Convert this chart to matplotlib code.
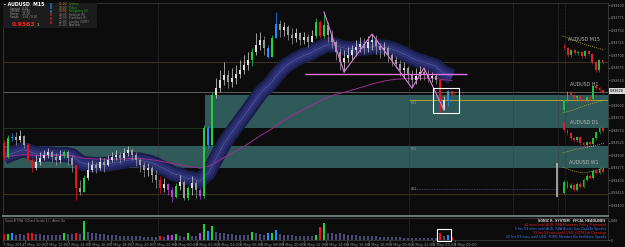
import numpy as np
import pandas as pd
import matplotlib
matplotlib.use('Agg')
import matplotlib.pyplot as plt
from matplotlib.patches import Rectangle

# ## Data ## #
# AUDUSD M15, prices in points (price * 1e5)
first_open = 93524
closes = np.array([
    93496, 93534, 93536, 93530, 93538, 93520, 93490, 93474, 93486, 93494,
    93500, 93506, 93496, 93490, 93498, 93506, 93494, 93480, 93434, 93426,
    93454, 93470, 93480, 93474, 93486, 93480, 93490, 93496, 93500, 93494,
    93504, 93510, 93500, 93490, 93480, 93470, 93474, 93460, 93450, 93434,
    93442, 93430, 93416, 93438, 93446, 93414, 93434, 93444, 93430, 93418,
    93554, 93520, 93620, 93634, 93650, 93660, 93646, 93654, 93662, 93670,
    93680, 93690, 93706, 93720, 93730, 93714, 93696, 93734, 93762, 93750,
    93756, 93740, 93734, 93744, 93730, 93736, 93726, 93738, 93766, 93738,
    93760, 93740, 93726, 93706, 93686, 93694, 93700, 93710, 93716, 93722,
    93714, 93726, 93730, 93718, 93710, 93714, 93700, 93690, 93682, 93670,
    93674, 93662, 93650, 93658, 93666, 93662, 93654, 93658, 93650, 93590,
    93610, 93628, 93622])
highs = np.array([
    93530, 93540, 93544, 93546, 93550, 93540, 93524, 93494, 93500, 93506,
    93510, 93514, 93510, 93504, 93510, 93510, 93510, 93500, 93480, 93450,
    93460, 93486, 93490, 93486, 93496, 93494, 93500, 93506, 93510, 93506,
    93514, 93518, 93514, 93506, 93494, 93486, 93484, 93478, 93470, 93458,
    93454, 93444, 93436, 93444, 93460, 93450, 93438, 93458, 93450, 93434,
    93560, 93558, 93626, 93654, 93670, 93686, 93670, 93674, 93680, 93690,
    93700, 93706, 93714, 93744, 93746, 93738, 93720, 93740, 93786, 93770,
    93766, 93760, 93754, 93754, 93746, 93746, 93742, 93750, 93774, 93770,
    93786, 93766, 93750, 93730, 93714, 93710, 93716, 93720, 93730, 93736,
    93734, 93738, 93742, 93740, 93724, 93726, 93718, 93704, 93698, 93690,
    93686, 93678, 93670, 93674, 93678, 93674, 93670, 93666, 93662, 93652,
    93618, 93630, 93628])
lows = np.array([
    93490, 93494, 93528, 93520, 93526, 93514, 93486, 93466, 93470, 93480,
    93490, 93494, 93486, 93480, 93484, 93494, 93480, 93466, 93410, 93420,
    93430, 93450, 93466, 93464, 93470, 93466, 93478, 93486, 93490, 93484,
    93490, 93498, 93490, 93478, 93466, 93456, 93458, 93446, 93434, 93424,
    93426, 93420, 93406, 93414, 93430, 93410, 93410, 93420, 93414, 93412,
    93414, 93514, 93518, 93614, 93626, 93640, 93634, 93636, 93642, 93654,
    93662, 93670, 93678, 93700, 93710, 93700, 93694, 93696, 93734, 93736,
    93738, 93730, 93722, 93726, 93720, 93722, 93716, 93726, 93734, 93734,
    93734, 93726, 93714, 93690, 93670, 93666, 93686, 93690, 93698, 93706,
    93702, 93706, 93710, 93702, 93694, 93698, 93686, 93678, 93674, 93658,
    93654, 93646, 93634, 93642, 93650, 93650, 93646, 93646, 93642, 93586,
    93590, 93598, 93620])
volumes = np.array([
    360, 340, 380, 300, 320, 300, 420, 400, 350, 330,
    300, 280, 310, 260, 300, 380, 320, 340, 420, 360,
    1070, 480, 420, 380, 350, 330, 300, 280, 270, 250,
    240, 230, 220, 200, 210, 190, 180, 170, 160, 240,
    150, 270, 300, 360, 200, 180, 380, 250, 230, 420,
    900, 520, 800, 460, 420, 380, 350, 330, 300, 300,
    280, 300, 450, 400, 350, 300, 420, 380, 560, 320,
    300, 280, 260, 250, 240, 230, 220, 220, 300, 720,
    960, 400, 380, 360, 400, 340, 300, 280, 260, 240,
    230, 220, 200, 210, 190, 180, 170, 160, 150, 150,
    140, 130, 140, 120, 110, 120, 100, 110, 120, 420,
    200, 300, 150])

# PVA coloured bars (bar index -> colour)
RED, GREEN, BLUE, PURPLE = '#e8141c', '#25d03a', '#1e8fff', '#b040e0'
signal_colors = {0: RED, 1: GREEN, 2: BLUE, 6: RED, 7: RED, 15: GREEN,
                 18: RED, 20: GREEN, 39: RED, 41: PURPLE, 42: PURPLE,
                 43: GREEN, 46: GREEN, 49: PURPLE, 50: GREEN, 51: BLUE,
                 52: GREEN, 62: GREEN, 66: BLUE, 67: GREEN, 68: BLUE,
                 78: GREEN, 79: RED, 80: GREEN, 109: RED, 111: BLUE,
                 112: RED}

# levels and zones
band_upper = (93554, 93620)
band_upper_start = 50.25
band_lower = (93474, 93518)
line_grey = 93626
lines_brown = [93686, 93422]
line_green = 93554
pivot_level = 93610
support_level = 93432
pink_level = 93662
current_price = 93628

zz_bars = [80, 85, 92, 102, 105, 110]
zz_kinds = ['H', 'L', 'H', 'L', 'H', 'L']
day_seps = [38.5, 101.25, 127.25, 138.5]

price_ticks = [93800, 93775, 93750, 93725, 93700, 93675, 93650,
               93600, 93575, 93550, 93525, 93500, 93475, 93450, 93425,
               93400]
time_labels = ['7 May 2014', '7 May 10:00', '7 May 12:00', '7 May 14:00',
               '7 May 16:00', '7 May 18:00', '7 May 20:00', '7 May 22:00',
               '8 May 00:00', '8 May 02:00', '8 May 04:00', '8 May 06:00',
               '8 May 08:00', '8 May 10:00', '8 May 12:00', '8 May 14:00',
               '8 May 16:00', '8 May 18:00', '8 May 20:00', '8 May 22:00',
               '9 May 00:00', '9 May 02:00']

# multi timeframe mini charts: closes, dotted MA, y-range
mini_charts = [
    ('AUDUSD M15',
     [93610, 93604, 93590, 93600, 93594, 93596, 93588, 93598, 93592, 93576,
      93560, 93580, 93576],
     [93628, 93620, 93612, 93606, 93600], (93550, 93630)),
    ('AUDUSD H1',
     [93480, 93500, 93516, 93510, 93504, 93508, 93502, 93500, 93506, 93502,
      93528, 93524, 93520, 93516],
     [93474, 93480, 93488, 93494, 93500], (93470, 93540)),
    ('AUDUSD D1',
     [93454, 93440, 93434, 93424, 93420, 93426, 93414, 93410, 93416, 93412,
      93424, 93436, 93444, 93438],
     [93394, 93400, 93404, 93408, 93414], (93390, 93464)),
    ('AUDUSD W1',
     [93314, 93336, 93324, 93330, 93320, 93332, 93326, 93340, 93348, 93344,
      93358, 93354, 93362, 93356],
     [93366, 93358, 93354, 93358, 93364], (93300, 93384)),
]
mini_boxes = [(35, 75), (80, 115), (118, 155), (158, 200)]

news_lines = [
    ('SONIC R. SYSTEM   FFCAL HEADLINES', '#d0d0d0'),
    ('44 mins until AUD: RBA Monetary Policy Statement', '#e02020'),
    ('1 hrs 59 mins until AUD: RBA Assist Gov Debelle Speaks', '#3a78ff'),
    ('13 hrs 59 mins until USD: JOLTS Job Openings', '#e02020'),
    ('20 hrs 59 mins until USD: FOMC Member Kocherlakota Speaks', '#3a78ff'),
]

###############################################################################

W, H = 625, 247
BG = '#0c0c0c'
TEAL = '#30595a'


def fig_box(x0, y0, x1, y1):
    # pixel box (origin top left) -> figure fraction
    return [x0 / W, 1 - y1 / H, (x1 - x0) / W, (y1 - y0) / H]


fig = plt.figure(figsize=(W / 100, H / 100), dpi=100, facecolor=BG)

ax = fig.add_axes(fig_box(3, 3, 608, 216), facecolor=BG)
ax.set_xlim(-0.25, 151.0)
ax.set_ylim(93378, 93804)

x = np.arange(len(closes))
opens = np.r_[first_open, closes[:-1]]

# zones
ax.axhspan(*band_lower, color=TEAL, lw=0, zorder=1)
ax.fill_between([band_upper_start, 151.25], band_upper[0], band_upper[1],
                color=TEAL, lw=0, zorder=1)

# horizontal levels
ax.axhline(line_grey, color='#6a6a6a', lw=0.6, zorder=2)
for lv in lines_brown:
    ax.axhline(lv, color='#4a3a22', lw=0.6, zorder=2)
ax.hlines(line_green, -0.25, band_upper_start, color='#1f3a1f', lw=0.6,
          zorder=2)
ax.hlines(pivot_level, 101.25, 151.25, color='#a8a030', lw=0.7, zorder=2.5)
ax.hlines(support_level, 101.5, 138.5, color='#50507a', lw=0.6,
          linestyles=(0, (1, 1)), zorder=2)
for b in day_seps:
    ax.axvline(b, color='#3a3a3a', lw=0.6, ls=(0, (1, 1)), zorder=2)
ax.axvline(140.25, color='#3c3c1c', lw=0.5, ls=(0, (1, 1)), zorder=2)
ax.vlines(138.35, 93416, 93484, color='#b8b8b8', lw=1.2, zorder=6)

# moving average ribbon
ema_fast = pd.Series(closes).ewm(span=20, adjust=False).mean()
ema_slow = pd.Series(closes).ewm(span=70, adjust=False).mean()
ax.plot(x, ema_fast, color='#1b1e4a', lw=11, solid_capstyle='butt',
        zorder=3)
ax.plot(x, ema_fast, color='#242863', lw=8, solid_capstyle='butt', zorder=3)
ax.plot(x, ema_fast, color='#2d3279', lw=4.5, solid_capstyle='butt',
        zorder=3)
ax.plot(x, ema_fast, color='#8d8fb0', lw=0.4, ls=(0, (1, 1)), zorder=3)
ax.plot(x, ema_slow, color='#9c2f8e', lw=0.7, zorder=4)

# candles
up = closes >= opens
cols = [signal_colors.get(i, '#dcdcdc' if up[i] else '#9c9c9c') for i in x]
top = np.maximum(highs, np.maximum(opens, closes))
bot = np.minimum(lows, np.minimum(opens, closes))
ax.vlines(x, bot, top, colors=cols, lw=0.5, zorder=5)
body = closes - opens
body = np.where(np.abs(body) < 2, 2, body)
ax.bar(x, body, bottom=opens, width=0.6, color=cols, lw=0, zorder=5)

# zigzag and levels on top
zz_y = [highs[i] if k == 'H' else lows[i] for i, k in zip(zz_bars, zz_kinds)]
ax.plot(zz_bars, zz_y, color='#e07ce0', lw=0.8, zorder=6)
ax.hlines(pink_level, 75.25, 115.75, color='#e070e0', lw=1.0, zorder=6)
ax.add_patch(Rectangle((107.25, 93584), 6.5, 50, fill=False, ec='white',
                       lw=0.8, zorder=7))

ax.text(101.6, pivot_level - 2, 'PS1', color='#9a9a9a', fontsize=2.4,
        va='top', zorder=7)
ax.text(101.6, band_lower[1] - 2, 'R61', color='#9a9a9a', fontsize=2.4,
        va='top', zorder=7)
ax.text(101.6, support_level, 'S61', color='#9a9a9a', fontsize=2.4,
        va='center', zorder=7)
ax.text(110.6, 93622, '23:13', color='#c87a30', fontsize=2.4, va='center',
        zorder=7)

# price axis
ax.yaxis.tick_right()
ax.set_yticks(price_ticks)
ax.set_yticklabels(['%.5f' % (v / 1e5) for v in price_ticks])
ax.tick_params(axis='y', labelsize=2.3, colors='#9a9a9a', length=1.2,
               pad=0.6, width=0.4)
ax.set_xticks([])
ax.text(1.0035, current_price, '%.5f' % (current_price / 1e5),
        transform=ax.get_yaxis_transform(), fontsize=2.3, color='black',
        va='center', ha='left', zorder=8,
        bbox=dict(boxstyle='square,pad=0.3', fc='#d8d8d8', ec='none'))
for s in ax.spines.values():
    s.set_color('#3a3a3a')
    s.set_linewidth(0.6)
ax.spines['bottom'].set_color('#6a7a7a')
ax.spines['bottom'].set_linewidth(1.4)

# volume panel
axv = fig.add_axes(fig_box(3, 218, 608, 240), facecolor=BG)
axv.set_xlim(-0.25, 151.0)
axv.set_ylim(0, 1250)
vcols = [signal_colors.get(i, '#4b4a78') for i in x]
axv.bar(x, volumes, width=0.6, color=vcols, lw=0)
axv.add_patch(Rectangle((108.25, -57), 3.5, 682, fill=False, ec='white',
                        lw=0.8, clip_on=False, zorder=7))
for b in day_seps[:2]:
    axv.axvline(b, color='#3a3a3a', lw=0.6, ls=(0, (1, 1)))
axv.text(0.003, 0.97, 'SonicR PVA  (Chart Scale 1) - Alert On',
         transform=axv.transAxes, fontsize=2.3, color='#8a8a8a', va='top')
axv.yaxis.tick_right()
axv.set_yticks([0, 1100])
axv.set_yticklabels(['0', '0.00'])
axv.tick_params(axis='y', labelsize=2.3, colors='#9a9a9a', length=1.2,
                pad=0.6, width=0.4)
axv.set_xticks(np.arange(len(time_labels)) * 5.375 - 0.25)
axv.set_xticklabels(time_labels, ha='left')
axv.tick_params(axis='x', labelsize=2.6, colors='#8f8f8f', length=1.5,
                pad=0.8, width=0.4)
for s in axv.spines.values():
    s.set_color('#3a3a3a')
    s.set_linewidth(0.6)
for k, (txt, c) in enumerate(news_lines):
    fig.text(606 / W, 1 - (220.5 + 4.1 * k) / H, txt, color=c, fontsize=2.3,
             ha='right', va='center', fontweight='bold' if k == 0 else None)

# mini multi timeframe charts
for (name, mc, ma, lim), (y0, y1) in zip(mini_charts, mini_boxes):
    am = fig.add_axes(fig_box(561, y0, 606, y1))
    am.patch.set_alpha(0)
    am.set_axis_off()
    mc = np.array(mc)
    n = len(mc)
    mo = mc[:-1]
    mcl = mc[1:]
    mx = np.arange(1, n)
    mcol = np.where(mcl >= mo, '#1fbf3a', '#e0202a')
    mb = np.where(np.abs(mcl - mo) < 2, 2, mcl - mo)
    am.bar(mx, mb, bottom=mo, width=0.55, color=mcol, lw=0)
    am.vlines(mx, np.minimum(mo, mcl) - 3, np.maximum(mo, mcl) + 3,
              colors=mcol, lw=0.4)
    am.plot(np.linspace(0.5, n - 0.5, len(ma)), ma, color='#c8c040',
            lw=0.6, ls=(0, (1, 1.5)))
    am.set_xlim(0, n)
    am.set_ylim(*lim)
    fig.text(584 / W, 1 - (y0 + 4) / H, name, color='#b4b4b4', fontsize=3.4,
             ha='center', va='center')

# info panel top left
fig.patches.append(Rectangle((3 / W, 1 - 28 / H), 94 / W, 25 / H,
                             transform=fig.transFigure, fc='#1c1c1c',
                             ec='none', zorder=0.5))
fig.text(4 / W, 1 - 5 / H, '- AUDUSD  M15', color='white', fontsize=3.4,
         fontweight='bold', va='center')
for k, row in enumerate(['Spread   0.00', 'Candle   13:36',
                         'Range    21.00', 'Swaps   -1.62 / 0.20']):
    fig.text(10 / W, 1 - (8.6 + 2.9 * k) / H, row, color='#9a9a9a',
             fontsize=2.0, va='center')
fig.text(12 / W, 1 - 24 / H, '0.9363', color='#ff2020', fontsize=4.4,
         fontweight='bold', va='center')
fig.text(37 / W, 1 - 25 / H, '1', color='#cfcfcf', fontsize=2.8,
         va='center')
for k, c in enumerate(['#1e8fff', '#1e8fff', '#1e8fff', '#e02020',
                       '#e02020', '#e02020']):
    fig.text(50 / W, 1 - (4.5 + 3.6 * k) / H, '0', color=c, fontsize=2.4,
             va='center', fontweight='bold')
sessions = [('11:00', 'Sydney'), ('10:00', 'Tokyo'),
            ('10:00', 'Hongkong (X)'), ('24:00', 'Helsinki (R)'),
            ('22:00', 'Frankfurt (F)'), ('22:00', 'London (GMT)'),
            ('21:00', 'NewYork')]
for k, (t, nm) in enumerate(sessions):
    yy = 1 - (4.2 + 3.5 * k) / H
    fig.text(59 / W, yy, t, color='#c8902a' if k < 3 else '#8a8a8a',
             fontsize=2.1, va='center')
    fig.text(69 / W, yy, nm, color='#2aa02a' if k < 3 else '#8a8a8a',
             fontsize=2.1, va='center')

fig.savefig('out.png', dpi=100, facecolor=BG)
